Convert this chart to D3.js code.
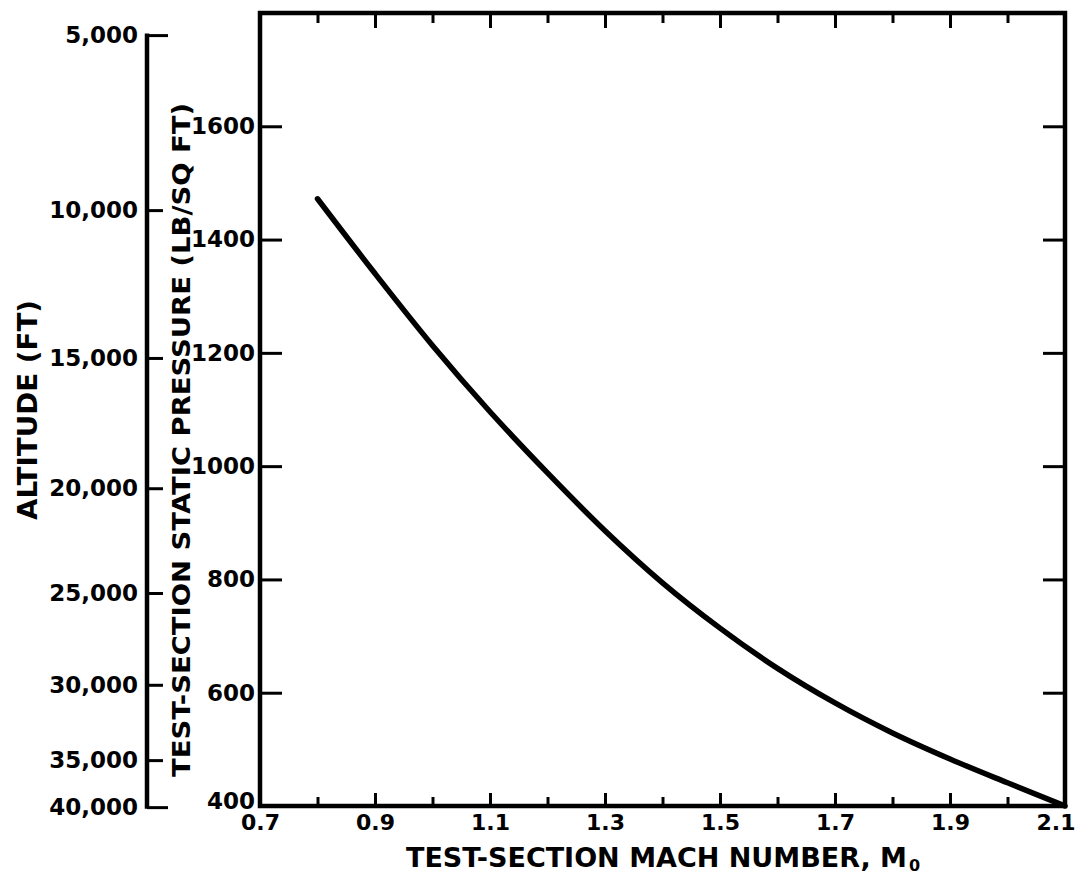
<!DOCTYPE html>
<html>
<head>
<meta charset="utf-8">
<script src="https://cdn.jsdelivr.net/npm/d3@7"></script>
<style>
  html, body { margin: 0; padding: 0; background: #fff; }
  svg { display: block; }
  text { font-family: "DejaVu Sans", "Liberation Sans", sans-serif; font-weight: bold; fill: #000; }
</style>
</head>
<body>
<svg id="chart" width="1077" height="875"></svg>
<script>
// ---- data ----
const machNumbers = [0.8, 0.9, 1.0, 1.1, 1.2, 1.3, 1.4, 1.5, 1.6, 1.7, 1.8, 1.9, 2.0, 2.1];
const staticPressure = [1472, 1340, 1213, 1096, 988, 886, 794, 714, 643, 582, 529, 483, 441, 400];
const pressureTicks = [400, 600, 800, 1000, 1200, 1400, 1600];
const machMajorTicks = [0.7, 0.9, 1.1, 1.3, 1.5, 1.7, 1.9, 2.1];
const machMinorTicks = [0.8, 1.0, 1.2, 1.4, 1.6, 1.8, 2.0];
const altitudeLabels = ["5,000", "10,000", "15,000", "20,000", "25,000", "30,000", "35,000", "40,000"];
const altitudePressure = [1761, 1452, 1191, 961, 776, 614, 481, 398];

// ---- layout ----
const plot = { left: 260, right: 1065, top: 13, bottom: 806 };
const altAxisX = 147;

const svg = d3.select("#chart");
const x = d3.scaleLinear().domain([0.7, 2.1]).range([plot.left, plot.right]);
const y = d3.scaleLinear().domain([400, 1800]).range([plot.bottom, plot.top]);

function styleAxis(g, sw, fs) {
  g.select(".domain").remove();
  g.selectAll(".tick line").attr("stroke", "#000").attr("stroke-width", sw);
  g.selectAll(".tick text").attr("font-size", fs || 23).style("font-family", "DejaVu Sans, sans-serif").attr("font-weight", "bold");
}

// bottom axis: major with labels
svg.append("g").attr("transform", `translate(0,${plot.bottom})`)
  .call(d3.axisBottom(x).tickValues(machMajorTicks).tickSizeInner(-13).tickSizeOuter(0).tickPadding(8).tickFormat(d3.format(".1f")))
  .call(g => styleAxis(g, 3, 22))
  .call(g => g.selectAll(".tick").filter(d => d === 2.1).select("text").attr("text-anchor", "end").attr("x", 10));
svg.append("g").attr("transform", `translate(0,${plot.bottom})`)
  .call(d3.axisBottom(x).tickValues(machMinorTicks).tickSizeInner(-9).tickSizeOuter(0).tickFormat(""))
  .call(g => styleAxis(g, 3));
// top axis: ticks pointing down
svg.append("g").attr("transform", `translate(0,${plot.top})`)
  .call(d3.axisTop(x).tickValues(machMajorTicks.slice(1, -1)).tickSizeInner(-15).tickSizeOuter(0).tickFormat(""))
  .call(g => styleAxis(g, 3));
svg.append("g").attr("transform", `translate(0,${plot.top})`)
  .call(d3.axisTop(x).tickValues(machMinorTicks).tickSizeInner(-10).tickSizeOuter(0).tickFormat(""))
  .call(g => styleAxis(g, 3));

// left pressure axis (ticks inward, labels outside)
svg.append("g").attr("transform", `translate(${plot.left},0)`)
  .call(d3.axisLeft(y).tickValues(pressureTicks).tickSizeInner(-22).tickSizeOuter(0).tickPadding(5).tickFormat(d3.format("d")))
  .call(g => styleAxis(g, 3))
  .call(g => g.selectAll(".tick").filter(d => d === 400).select("line").remove())
  .call(g => g.selectAll(".tick").filter(d => d === 400).select("text").attr("dy", "0.1em"));
// right side ticks
svg.append("g").attr("transform", `translate(${plot.right},0)`)
  .call(d3.axisRight(y).tickValues(pressureTicks.slice(1)).tickSizeInner(-22).tickSizeOuter(0).tickFormat(""))
  .call(g => styleAxis(g, 3));

// frame
svg.append("rect")
  .attr("x", plot.left).attr("y", plot.top)
  .attr("width", plot.right - plot.left).attr("height", plot.bottom - plot.top)
  .attr("fill", "none").attr("stroke", "#000").attr("stroke-width", 4.5);

// altitude axis
const altG = svg.append("g").attr("transform", `translate(${altAxisX},0)`)
  .call(d3.axisLeft(y).tickValues(altitudePressure).tickSizeInner(-16).tickSizeOuter(0).tickPadding(9)
    .tickFormat((d, i) => altitudeLabels[i]))
  .call(g => styleAxis(g, 3));
altG.selectAll(".tick").filter((d, i) => i === 0 || i === altitudePressure.length - 1)
  .select("line").attr("x2", 21);
altG.append("line")
  .attr("x1", 0).attr("x2", 0)
  .attr("y1", y(d3.max(altitudePressure)) - 1.5).attr("y2", y(d3.min(altitudePressure)) + 1.5)
  .attr("stroke", "#000").attr("stroke-width", 4.5);

// curve
svg.append("path")
  .datum(machNumbers.map((m, i) => [m, staticPressure[i]]))
  .attr("fill", "none").attr("stroke", "#000").attr("stroke-width", 5.5)
  .attr("stroke-linecap", "round").attr("stroke-linejoin", "round")
  .attr("d", d3.line().x(d => x(d[0])).y(d => y(d[1])).curve(d3.curveMonotoneX));

// titles
svg.append("text")
  .attr("transform", "translate(37,410) rotate(-90)")
  .attr("text-anchor", "middle").attr("font-size", 26)
  .attr("textLength", 220).attr("lengthAdjust", "spacingAndGlyphs")
  .text("ALTITUDE (FT)");
svg.append("text")
  .attr("transform", "translate(190,440) rotate(-90)")
  .attr("text-anchor", "middle").attr("font-size", 25)
  .attr("textLength", 674).attr("lengthAdjust", "spacingAndGlyphs")
  .text("TEST-SECTION STATIC PRESSURE (LB/SQ FT)");
svg.append("text")
  .attr("x", 406).attr("y", 867).attr("font-size", 26)
  .attr("textLength", 501).attr("lengthAdjust", "spacingAndGlyphs")
  .text("TEST-SECTION  MACH NUMBER, M");
svg.append("text")
  .attr("x", 909).attr("y", 871).attr("font-size", 16)
  .text("0");
</script>
</body>
</html>
